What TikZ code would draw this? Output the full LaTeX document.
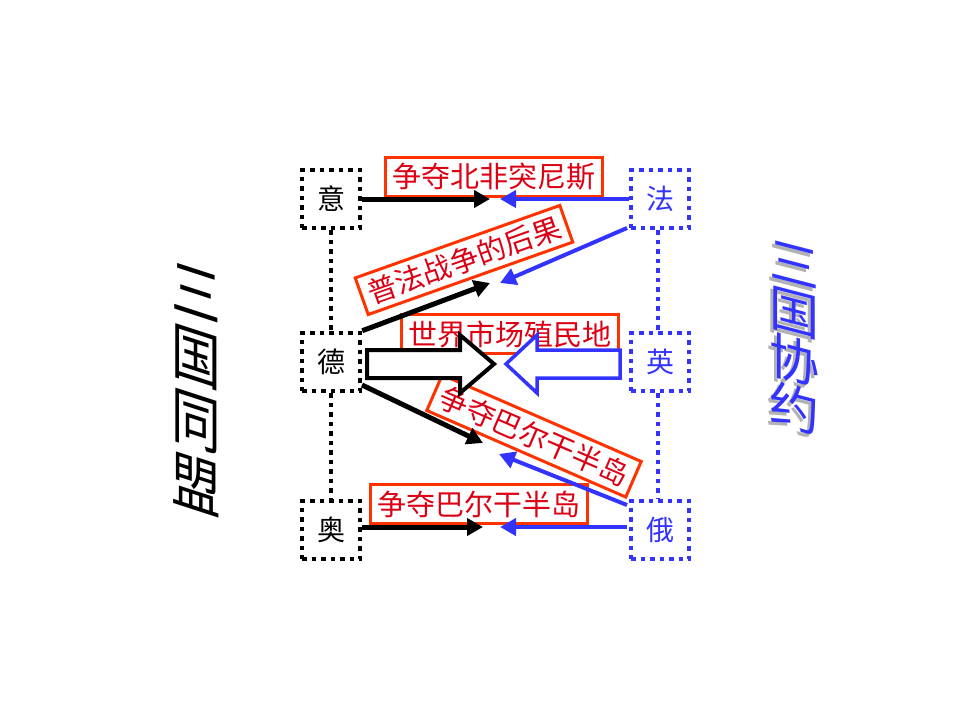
\documentclass[tikz,border=0pt]{standalone}
\usepackage{fontspec}
\newfontfamily\cjk{Noto Sans CJK SC}
\usetikzlibrary{arrows.meta}
\definecolor{frame}{RGB}{255,51,0}
\definecolor{goaltext}{RGB}{220,0,20}
\definecolor{entblue}{RGB}{51,51,255}
\begin{document}
\begin{tikzpicture}
  [x=1pt,y=-1pt,every node/.style={font=\cjk}]
  \tikzstyle{power} = [draw,line width=4.5pt,dash pattern=on 4.5pt off 5pt,
    minimum size=58pt,inner sep=0pt,font=\cjk\fontsize{28}{30}\selectfont]
  \tikzstyle{central} = [power,black]
  \tikzstyle{entente} = [power,entblue,text=entblue]
  \tikzstyle{goal} = [draw=frame,line width=3pt,text=goaltext,inner xsep=7pt,
    inner ysep=6pt,font=\cjk\fontsize{29}{30}\selectfont]
  \tikzstyle{push} = [line width=5pt,-{Triangle[length=16pt,width=17pt]}]
  \useasboundingbox (0,0) rectangle (960,720);
  % the two blocs
  \node[central] (it) at (331,199) {意};
  \node[central] (de) at (331,362) {德};
  \node[central] (at) at (331,530) {奥};
  \node[entente] (fr) at (660,199) {法};
  \node[entente] (uk) at (660,362) {英};
  \node[entente] (ru) at (660,530) {俄};
  \foreach \source /\dest in {it/de,de/at}
    \draw[line width=4.5pt,dash pattern=on 4.5pt off 5pt] (\source) -- (\dest);
  \foreach \source /\dest in {fr/uk,uk/ru}
    \draw[entblue,line width=4.5pt,dash pattern=on 4.5pt off 5pt]
      ([xshift=-2pt]\source.south) -- ([xshift=-2pt]\dest.north);
  % what they fight over
  \node[goal] (tunis) at (494,177) {争夺北非突尼斯};
  \node[goal,rotate=19.5] (war) at (464,260) {普法战争的后果};
  \node[goal] (world) at (510,334) {世界市场殖民地};
  \node[goal,rotate=-23.5] (balk) at (534,436) {争夺巴尔干半岛};
  \node[goal] (balk2) at (479,504) {争夺巴尔干半岛};
  \coordinate (t1) at (490,199);  \coordinate (u1) at (500,199);
  \coordinate (t2) at (490,283);  \coordinate (u2) at (500,283);
  \coordinate (t4) at (483,443);  \coordinate (u4) at (499,454);
  \coordinate (t5) at (483,527);  \coordinate (u5) at (500,527);
  \coordinate (s4) at (362,385);  \coordinate (s5) at (362,527);
  \coordinate (r2) at (627,228);  \coordinate (r4) at (627,505);
  \coordinate (r5) at (627,527);
  \foreach \source /\dest in {it.east/t1,de.north east/t2,s4/t4,s5/t5}
    \draw[push] (\source) -- (\dest);
  \foreach \source /\dest in {fr.west/u1,r2/u2,r4/u4,r5/u5}
    \draw[push,entblue,line width=4pt] (\source) -- (\dest);
  % the two hollow arrows
  \draw[line width=4pt,fill=white,line join=miter]
    (367,350) -- (460,350) -- (460,335) -- (494,364) -- (460,393) -- (460,378)
    -- (367,378) -- cycle;
  \draw[entblue,line width=3.5pt,fill=white,line join=miter]
    (620,350) -- (537,350) -- (537,335) -- (506,364) -- (537,393) -- (537,378)
    -- (620,378) -- cycle;
  % bloc names
  \node[cm={0.8,-0.26,0,1,(0,0)},align=center,font=\cjk\fontsize{62}{64}\selectfont]
    (tri) at (196,390) {三\\国\\同\\盟};
  \node[cm={1,-0.26,0,1,(0,0)},gray!60,align=center,font=\cjk\fontsize{50}{48}\selectfont]
    (ent0) at (791,341) {三\\国\\协\\约};
  \node[cm={1,-0.26,0,1,(0,0)},entblue,align=center,font=\cjk\fontsize{50}{48}\selectfont]
    (ent) at (794,338) {三\\国\\协\\约};
\end{tikzpicture}
\end{document}
